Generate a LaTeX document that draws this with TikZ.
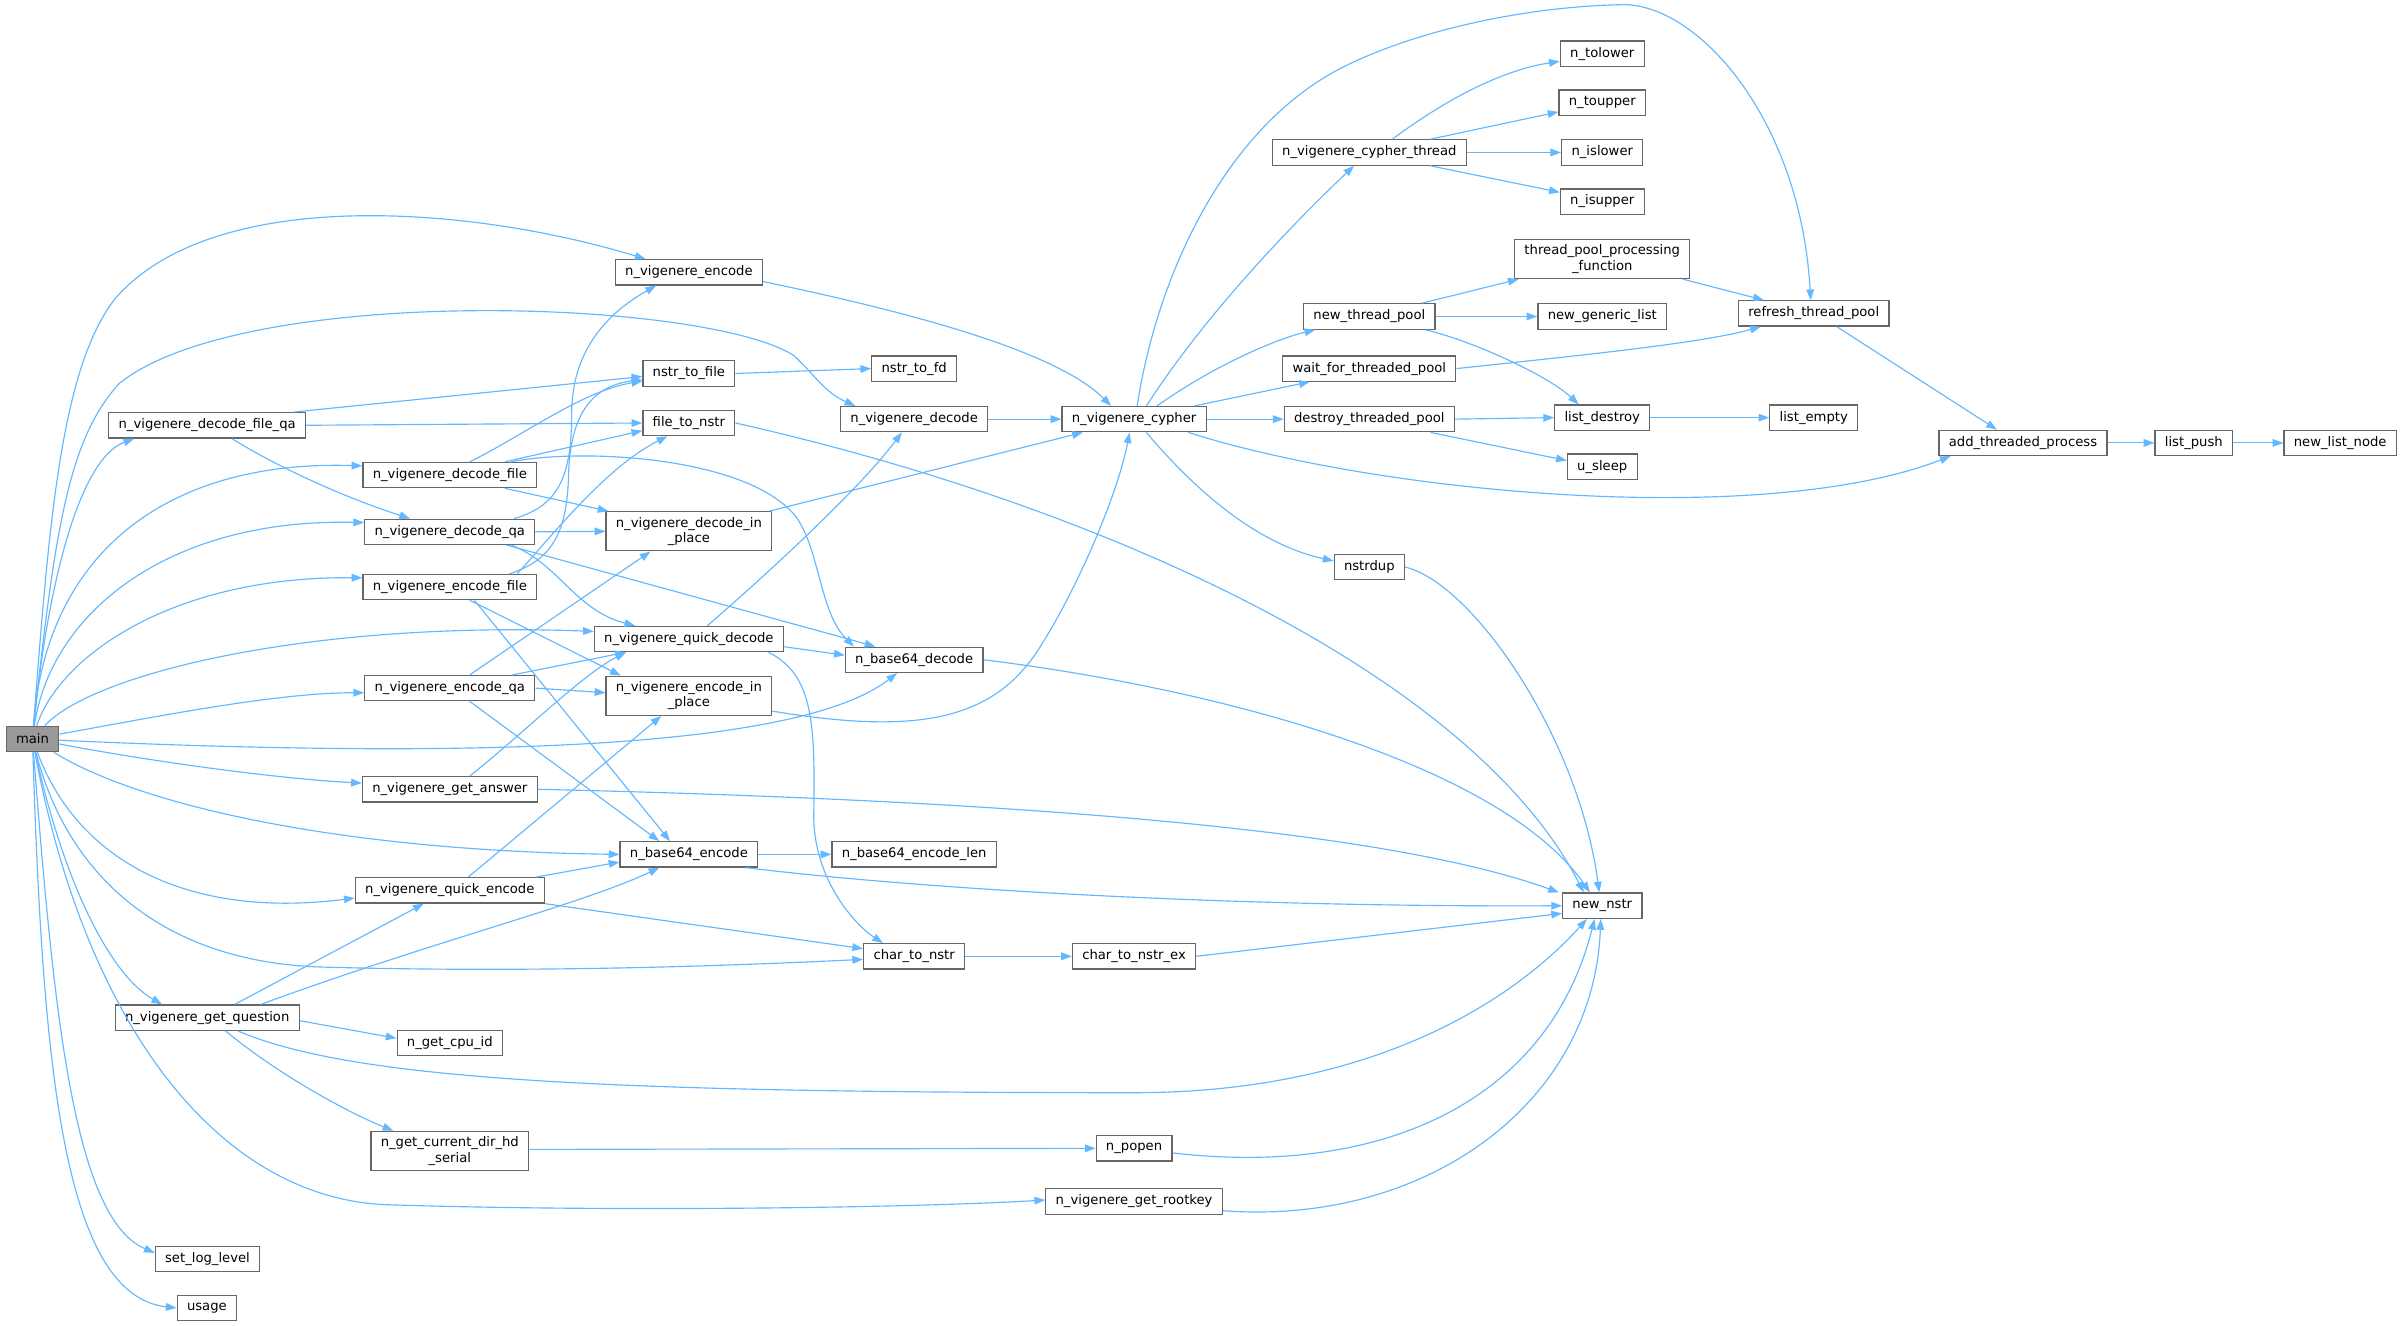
\documentclass[tikz,border=0pt]{standalone}
\usepackage{fontspec}
\setmainfont{DejaVu Sans}
\usetikzlibrary{arrows.meta}
\definecolor{edgeblue}{HTML}{63B8FF}
\definecolor{boxgrey}{HTML}{666666}
\definecolor{mainfill}{HTML}{999999}
\begin{document}
\begin{tikzpicture}[x=1pt,y=-1pt,
  fn/.style={draw=boxgrey,line width=0.8pt,fill=white,text=black,
    font=\fontsize{8.6}{10}\selectfont,inner xsep=6.4pt,inner ysep=0pt,
    minimum height=16.5pt,align=center},
  fntwo/.style={fn,minimum height=25.5pt},
  mainbox/.style={fn,fill=mainfill},
  edge/.style={draw=edgeblue,line width=0.75pt,-{Triangle[length=7pt,width=5pt]}}]
\fill[white] (0,0) rectangle (1568,865.2);
\useasboundingbox (0,0) rectangle (1568,865.2);

% ---- nodes ----
\node[mainbox] (main) at (21.2,482.2) {main};
\node[fn] (dfqa) at (135.2,277.5) {n\_vigenere\_decode\_file\_qa};
\node[fn] (gq) at (135.2,664) {n\_vigenere\_get\_question};
\node[fn] (sll) at (135.4,821.5) {set\_log\_level};
\node[fn] (usage) at (135,853.5) {usage};

\node[fn] (df) at (293.5,310) {n\_vigenere\_decode\_file};
\node[fn] (dqa) at (293.5,347) {n\_vigenere\_decode\_qa};
\node[fn] (ef) at (293.5,383) {n\_vigenere\_encode\_file};
\node[fn] (eqa) at (293.5,449) {n\_vigenere\_encode\_qa};
\node[fn] (ga) at (293.5,515) {n\_vigenere\_get\_answer};
\node[fn] (qe) at (293.5,581) {n\_vigenere\_quick\_encode};
\node[fn] (cpu) at (293.5,680.5) {n\_get\_cpu\_id};
\node[fntwo] (hd) at (293.5,751) {n\_get\_current\_dir\_hd\\\_serial};

\node[fn] (nvenc) at (449.5,177.7) {n\_vigenere\_encode};
\node[fn] (ntf) at (449.5,243.7) {nstr\_to\_file};
\node[fn] (f2n) at (449.5,276) {file\_to\_nstr};
\node[fntwo] (dip) at (449.5,346.7) {n\_vigenere\_decode\_in\\\_place};
\node[fn] (qd) at (449.5,417) {n\_vigenere\_quick\_decode};
\node[fntwo] (eip) at (449.5,454) {n\_vigenere\_encode\_in\\\_place};
\node[fn] (b64e) at (449.5,557.5) {n\_base64\_encode};

\node[fn] (ntfd) at (596.5,240.5) {nstr\_to\_fd};
\node[fn] (nvdec) at (596.5,273.5) {n\_vigenere\_decode};
\node[fn] (b64d) at (596.5,430.5) {n\_base64\_decode};
\node[fn] (b64el) at (596.5,557.5) {n\_base64\_encode\_len};
\node[fn] (c2n) at (596.5,624) {char\_to\_nstr};

\node[fn] (cy) at (740,273.5) {n\_vigenere\_cypher};
\node[fn] (c2ne) at (740,624) {char\_to\_nstr\_ex};
\node[fn] (po) at (740,749.3) {n\_popen};
\node[fn] (rk) at (740,784) {n\_vigenere\_get\_rootkey};

\node[fn] (ct) at (893.5,99.5) {n\_vigenere\_cypher\_thread};
\node[fn] (ntp) at (893.5,206.5) {new\_thread\_pool};
\node[fn] (wait) at (893.5,240.5) {wait\_for\_threaded\_pool};
\node[fn] (dtp) at (893.5,273.5) {destroy\_threaded\_pool};
\node[fn] (nd) at (893.5,370) {nstrdup};

\node[fn] (tl) at (1045.5,35) {n\_tolower};
\node[fn] (tu) at (1045.5,67) {n\_toupper};
\node[fn] (il) at (1045.5,99.5) {n\_islower};
\node[fn] (iu) at (1045.5,131.5) {n\_isupper};
\node[fntwo] (tppf) at (1045.5,169) {thread\_pool\_processing\\\_function};
\node[fn] (ngl) at (1045.5,206.5) {new\_generic\_list};
\node[fn] (ld) at (1045.5,272.5) {list\_destroy};
\node[fn] (us) at (1045.5,304.5) {u\_sleep};
\node[fn] (nn) at (1045.5,591) {new\_nstr};

\node[fn] (rtp) at (1183.5,204.5) {refresh\_thread\_pool};
\node[fn] (le) at (1183.5,272.5) {list\_empty};
\node[fn] (atp) at (1320,289) {add\_threaded\_process};
\node[fn] (lp) at (1431.5,289) {list\_push};
\node[fn] (nln) at (1527,289) {new\_list\_node};

% ---- edges from main ----
\draw[edge] (main) .. controls (32,340) and (40,240) .. (75,195) .. controls (140,120) and (310,135) .. (nvenc);
\draw[edge] (main) .. controls (36,340) and (46,285) .. (78,250) .. controls (160,185) and (460,195) .. (518,232) .. controls (532,245) and (538,256) .. ([xshift=10pt]nvdec.north west);
\draw[edge] (main) .. controls (30,390) and (50,300) .. ([xshift=17pt]dfqa.south west);
\draw[edge] (main) .. controls (30,360) and (110,300) .. ([yshift=6pt]df.west);
\draw[edge] (main) .. controls (33,400) and (110,338) .. ([yshift=6pt]dqa.west);
\draw[edge] (main) .. controls (38,430) and (110,376) .. ([yshift=6pt]ef.west);
\draw[edge] (main) .. controls (60,440) and (200,405) .. ([yshift=5pt]qd.west);
\draw[edge] (main) .. controls (100,468) and (180,452) .. ([yshift=-3pt]eqa.west);
\draw[edge] (main) .. controls (300,495) and (520,490) .. (b64d);
\draw[edge] (main) .. controls (100,497) and (180,508) .. ([yshift=4pt]ga.west);
\draw[edge] (main) .. controls (90,525) and (220,555) .. (b64e.west);
\draw[edge] (main) .. controls (50,560) and (120,600) .. ([yshift=-5pt]qe.west);
\draw[edge] (main) .. controls (45,575) and (110,628) .. (210,631) .. controls (350,635) and (480,630) .. ([yshift=-2pt]c2n.west);
\draw[edge] (main) .. controls (40,570) and (70,635) .. ([xshift=31pt]gq.north west);
\draw[edge] (main) .. controls (55,665) and (140,780) .. (250,786) .. controls (400,791) and (600,788) .. ([yshift=1pt]rk.west);
\draw[edge] (main) .. controls (35,660) and (48,795) .. ([yshift=4pt]sll.west);
\draw[edge] (main) .. controls (28,700) and (42,845) .. (usage.west);

% ---- column 1/2 callers ----
\draw[edge] ([xshift=-8pt]dfqa.north east) -- ([yshift=-2pt]ntf.west);
\draw[edge] (dfqa.east) -- (f2n.west);
\draw[edge] ([xshift=16pt]dfqa.south) .. controls (190,310) and (235,328) .. ([xshift=30pt]dqa.north west);

\draw[edge] ([xshift=13pt]df.north) .. controls (340,285) and (380,255) .. ([yshift=-5pt]ntf.west);
\draw[edge] ([xshift=36pt]df.north) -- ([yshift=-5pt]f2n.west);
\draw[edge] ([xshift=36pt]df.south) -- ([xshift=2pt]dip.north west);
\draw[edge] ([xshift=40pt]df.north) .. controls (380,292) and (490,298) .. (520,338) .. controls (535,360) and (535,400) .. ([xshift=6pt]b64d.north west);

\draw[edge] ([xshift=42pt]dqa.north) .. controls (365,330) and (373,310) .. (373,270) .. controls (373,230) and (395,205) .. ([xshift=27pt]nvenc.south west);
\draw[edge] (dqa.east) -- (dip.west);
\draw[edge] ([xshift=40pt]dqa.south) .. controls (365,368) and (375,398) .. ([xshift=27pt]qd.north west);
\draw[edge] ([xshift=37pt]dqa.south) -- ([xshift=20pt]b64d.north west);

\draw[edge] ([xshift=39pt]ef.north) .. controls (362,365) and (370,345) .. (371,310) .. controls (372,272) and (385,252) .. ([yshift=-4pt]ntf.west);
\draw[edge] ([xshift=44pt]ef.north) .. controls (360,350) and (395,305) .. ([xshift=-14pt]f2n.south);
\draw[edge] ([xshift=13pt]ef.south) -- ([xshift=10pt]eip.north west);
\draw[edge] ([xshift=16pt]ef.south) -- ([xshift=33pt]b64e.north west);

\draw[edge] ([xshift=13pt]eqa.north) -- ([xshift=-25pt]dip.south);
\draw[edge] ([xshift=41pt]eqa.north) -- ([xshift=21pt]qd.south west);
\draw[edge] (eqa.east) -- ([yshift=2pt]eip.west);
\draw[edge] ([xshift=13pt]eqa.south) -- ([xshift=26pt]b64e.north west);

\draw[edge] ([xshift=13pt]ga.north) .. controls (340,480) and (380,440) .. ([xshift=21pt]qd.south west);
\draw[edge] (ga.east) .. controls (650,522) and (900,540) .. ([xshift=-2pt]nn.north west);

\draw[edge] ([xshift=12pt]qe.north) -- ([xshift=-18pt]eip.south);
\draw[edge] ([xshift=-6pt]qe.north east) -- ([yshift=-5pt]b64e.west);
\draw[edge] (qe.south east) -- ([yshift=5pt]c2n.west);

\draw[edge] ([xshift=18pt]gq.north) -- ([xshift=-17pt]qe.south);
\draw[edge] ([xshift=35pt]gq.north) .. controls (280,615) and (380,590) .. ([xshift=26pt]b64e.south west);
\draw[edge] ([yshift=-2pt]gq.east) -- ([yshift=3pt]cpu.west);
\draw[edge] ([xshift=20pt]gq.south) .. controls (230,705) and (400,713) .. (740,713) .. controls (900,713) and (990,650) .. ([xshift=-10pt]nn.south);
\draw[edge] ([xshift=12pt]gq.south) .. controls (180,700) and (225,725) .. ([xshift=15pt]hd.north west);

\draw[edge] ([yshift=1pt]hd.east) -- (po.west);

% ---- middle columns ----
\draw[edge] ([yshift=-3pt]po.east) .. controls (900,768) and (1010,720) .. ([xshift=-5pt]nn.south);
\draw[edge] ([yshift=-6pt]rk.east) .. controls (930,800) and (1040,720) .. ([xshift=-1pt]nn.south);
\draw[edge] (c2n.east) -- (c2ne.west);
\draw[edge] (c2ne.east) -- ([yshift=-5pt]nn.west);
\draw[edge] (nd.east) .. controls (960,380) and (1030,480) .. ([xshift=-2pt]nn.north);
\draw[edge] (f2n.east) .. controls (720,330) and (960,440) .. ([xshift=-12pt]nn.north);
\draw[edge] (b64d.east) .. controls (800,450) and (980,500) .. ([xshift=-8pt]nn.north);
\draw[edge] (b64e.east) -- (b64el.west);
\draw[edge] ([xshift=-8pt]b64e.south east) .. controls (600,580) and (800,592) .. (nn.west);

\draw[edge] ([xshift=12pt]qd.north) .. controls (500,375) and (560,320) .. ([xshift=-8pt]nvdec.south);
\draw[edge] ([yshift=-5pt]qd.east) -- ([yshift=3pt]b64d.west);
\draw[edge] ([xshift=52pt]qd.south) .. controls (530,440) and (532,470) .. (531,530) .. controls (530,575) and (560,605) .. ([xshift=13pt]c2n.north west);

\draw[edge] ([yshift=-10pt]eip.east) .. controls (600,480) and (650,470) .. (680,420) .. controls (705,380) and (730,320) .. ([xshift=-3pt]cy.south);
\draw[edge] ([xshift=-2pt]dip.north east) -- ([xshift=14pt]cy.south west);
\draw[edge] ([yshift=-6pt]nvenc.east) .. controls (600,205) and (690,230) .. ([xshift=-15pt]cy.north);
\draw[edge] (nvdec.east) -- (cy.west);
\draw[edge] (ntf.east) -- (ntfd.west);

% ---- cypher and right part ----
\draw[edge] ([xshift=2pt]cy.north) .. controls (755,180) and (800,80) .. (880,42) .. controls (930,18) and (1000,4) .. (1060,3) .. controls (1110,4) and (1175,80) .. ([xshift=-2pt]rtp.north);
\draw[edge] ([xshift=8pt]cy.north) .. controls (790,200) and (850,140) .. ([xshift=-10pt]ct.south);
\draw[edge] ([xshift=15pt]cy.north) .. controls (790,240) and (830,222) .. ([xshift=8pt]ntp.south west);
\draw[edge] ([xshift=-8pt]cy.north east) -- ([xshift=18pt]wait.south west);
\draw[edge] (cy.east) -- (dtp.west);
\draw[edge] ([xshift=-12pt]cy.south east) .. controls (900,322) and (1150,345) .. ([xshift=8pt]atp.south west);
\draw[edge] ([xshift=8pt]cy.south) .. controls (780,320) and (820,355) .. ([yshift=4pt]nd.west);

\draw[edge] ([xshift=15pt]ct.north) .. controls (950,60) and (985,45) .. ([yshift=-5pt]tl.west);
\draw[edge] ([xshift=-24pt]ct.north east) -- ([yshift=-6pt]tu.west);
\draw[edge] (ct.east) -- (il.west);
\draw[edge] ([xshift=-24pt]ct.south east) -- ([yshift=6pt]iu.west);

\draw[edge] ([xshift=-9pt]ntp.north east) -- ([xshift=3pt]tppf.south west);
\draw[edge] (ntp.east) -- (ngl.west);
\draw[edge] ([xshift=-7pt]ntp.south east) .. controls (960,222) and (1010,245) .. ([xshift=16pt]ld.north west);

\draw[edge] ([xshift=-5pt]tppf.south east) -- ([xshift=17pt]rtp.north west);
\draw[edge] (wait.east) .. controls (1030,232) and (1110,224) .. ([xshift=15pt]rtp.south west);
\draw[edge] (dtp.east) -- (ld.west);
\draw[edge] ([xshift=-16pt]dtp.south east) -- ([yshift=4pt]us.west);
\draw[edge] (ld.east) -- (le.west);
\draw[edge] ([xshift=15pt]rtp.south) -- ([xshift=-17pt]atp.north);
\draw[edge] (atp.east) -- (lp.west);
\draw[edge] (lp.east) -- (nln.west);
\end{tikzpicture}
\end{document}
